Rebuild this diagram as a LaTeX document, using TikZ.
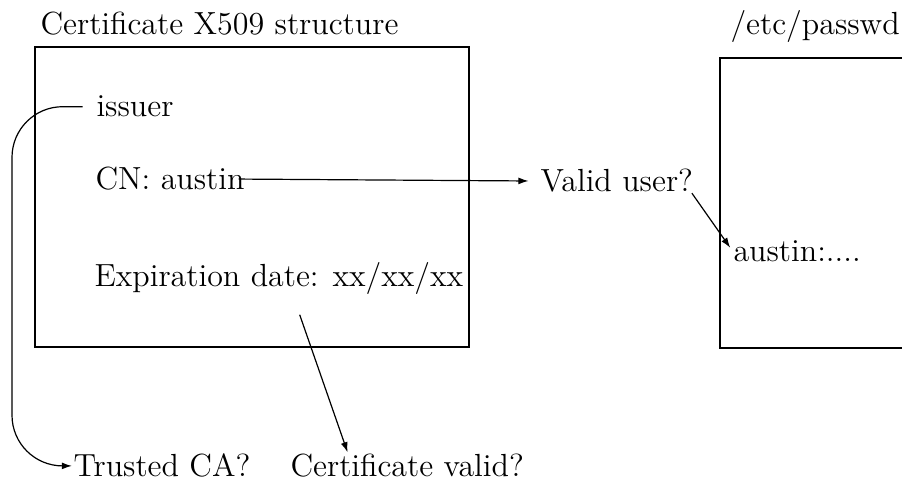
\documentclass[tikz,border=0pt]{standalone}
\usepackage{amsmath}
\usetikzlibrary{arrows.meta,positioning}

\begin{document}
\begin{tikzpicture}[x=0.375pt, y=-0.375pt,
                   font=\fontsize{12}{14}\selectfont,
                   txt/.style={inner sep=0pt, anchor=base west},
                   frame/.style={line width=0.72pt},
                   conn/.style={line width=0.45pt, -{Latex[length=3.8pt,width=2.6pt]}}]
          \useasboundingbox (0,0) rectangle (902,482);
          % the two boxes
          \draw[frame] (35,47) rectangle (469,347);
          \draw[frame] (910,58) -- (720,58) -- (720,348) -- (910,348);
          % titles
          \node[txt] (certtitle) at (40,35) {Certificate X509 structure};
          \node[txt] (pwdtitle) at (730,35) {/etc/passwd};
          % fields of the certificate
          \node[txt] (issuer) at (96,117) {issuer};
          \node[txt] (cn) at (95,190) {CN: austin};
          \node[txt] (expire) at (94,287) {Expiration date: xx/xx/xx};
          % checks
          \node[txt] (valid) at (540,192) {Valid user?};
          \node[txt] (entry) at (733,262) {austin:....};
          \node[txt] (trusted) at (73,477) {Trusted CA?};
          \node[txt] (certok) at (290,477) {Certificate valid?};
          \coordinate (rail) at (12,300);
          % connectors
          \draw[conn, rounded corners=19pt] ([xshift=-5pt]issuer.west) -| (rail) |- ([xshift=-0.4pt]trusted.west);
          \draw[conn, shorten >=4.3pt] ([xshift=-2.4pt]cn.east) -- (valid.west);
          \draw[conn, shorten >=1.8pt] ([xshift=-0.6pt]valid.south east) -- (entry.west);
          \draw[conn] ([xshift=7.8pt,yshift=-7.2pt]expire.south) -- ([xshift=21.6pt,yshift=0.6pt]certok.north west);
        \end{tikzpicture}
\end{document}
